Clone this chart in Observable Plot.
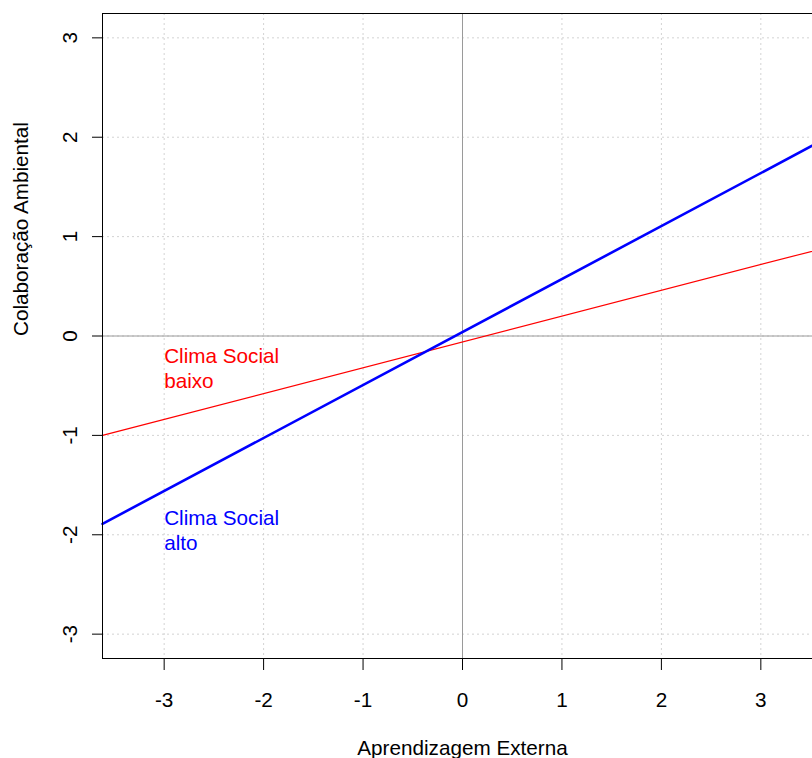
<!DOCTYPE html>
<html>
<head>
<meta charset="utf-8">
<script src="https://cdn.jsdelivr.net/npm/d3@7"></script>
<script src="https://cdn.jsdelivr.net/npm/@observablehq/plot@0.6"></script>
<style>
  html, body { margin: 0; padding: 0; background: white; overflow: hidden; }
  #wrap { width: 812px; height: 758px; overflow: hidden; }
  #wrap svg { max-width: none !important; width: 832px !important; height: 758px !important; }
</style>
</head>
<body>
<div id="wrap"></div>
<script>
// Data
const xTicks = [-3, -2, -1, 0, 1, 2, 3];
const yTicks = [-3, -2, -1, 0, 1, 2, 3];
const xEnds = [-3.62, 3.62];
const baixoY = [-1.00, 0.88];
const altoY = [-1.89, 1.97];
const seriesNames = ["baixo", "alto"];
const seriesColors = ["#ff0000", "#0000ff"];
const labelTexts = ["Clima Social\nbaixo", "Clima Social\nalto"];
const labelX = [-3, -3];
const labelY = [-0.32, -1.95];
const xTitle = "Aprendizagem Externa";
const yTitle = "Colaboração Ambiental";

const baixo = xEnds.map((x, i) => ({x, y: baixoY[i]}));
const alto = xEnds.map((x, i) => ({x, y: altoY[i]}));
const labels = labelTexts.map((t, i) => ({x: labelX[i], y: labelY[i], t, c: seriesColors[i]}));

const font = "'Liberation Sans', Arial, sans-serif";
const fs = 20.7;

const chart = Plot.plot({
  width: 832,
  height: 758,
  marginLeft: 102,
  marginRight: 10,
  marginTop: 13,
  marginBottom: 100,
  style: {fontFamily: font, fontSize: fs + "px", background: "white", color: "black", overflow: "visible"},
  x: {domain: [-3.62, 3.62], axis: null},
  y: {domain: [-3.245, 3.245], axis: null},
  marks: [
    Plot.ruleX(xTicks, {stroke: "#d3d3d3", strokeDasharray: "2,3"}),
    Plot.ruleY(yTicks, {stroke: "#d3d3d3", strokeDasharray: "2,3"}),
    Plot.ruleX([0], {stroke: "#9a9a9a"}),
    Plot.ruleY([0], {stroke: "#9a9a9a"}),
    Plot.line(baixo, {x: "x", y: "y", stroke: seriesColors[0], strokeWidth: 1.2}),
    Plot.line(alto, {x: "x", y: "y", stroke: seriesColors[1], strokeWidth: 2.6}),
    Plot.text(labels, {x: "x", y: "y", text: "t", fill: "c", textAnchor: "start", lineAnchor: "middle", lineHeight: 1.17, fontSize: fs}),
    Plot.frame({stroke: "black"}),
    Plot.axisX({ticks: xTicks, tickSize: 12, tickFormat: () => "", label: null, stroke: "black"}),
    Plot.axisY({ticks: yTicks, tickSize: 10, tickFormat: () => "", label: null, stroke: "black"}),
    Plot.text(xTicks, {x: d => d, frameAnchor: "bottom", dy: 42, text: d => String(d), lineAnchor: "middle", fontSize: fs}),
    Plot.text(yTicks, {y: d => d, frameAnchor: "left", dx: -32, text: d => String(d), rotate: -90, lineAnchor: "middle", textAnchor: "middle", fontSize: fs}),
    Plot.text([xTitle], {frameAnchor: "bottom", dy: 90, text: d => d, lineAnchor: "middle", fontSize: fs}),
    Plot.text([yTitle], {frameAnchor: "left", dx: -81, text: d => d, rotate: -90, lineAnchor: "middle", fontSize: fs})
  ]
});
document.getElementById("wrap").appendChild(chart);
</script>
</body>
</html>
